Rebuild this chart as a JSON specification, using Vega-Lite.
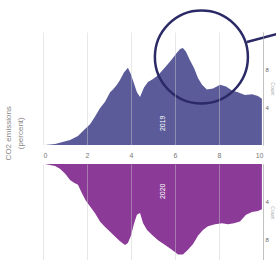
{
  "$schema": "https://vega.github.io/schema/vega-lite/v6.json",
  "background": "white",
  "config": {"view": {"stroke": null}, "font": "Liberation Sans"},
  "title": {"text": ["CO2 emissions", "(percent)"], "orient": "left", "anchor": "middle", "fontSize": 8, "fontWeight": "normal", "color": "#888", "offset": 18, "lineHeight": 12},
  "spacing": 6,
  "datasets": {
    "top": [
      {"x": 0.09, "v": 0}, {"x": 0.55, "v": 0.1}, {"x": 1.23, "v": 0.53}, {"x": 1.59, "v": 0.96},
      {"x": 1.91, "v": 1.7}, {"x": 2.14, "v": 2.2}, {"x": 2.36, "v": 3.0}, {"x": 2.59, "v": 3.9},
      {"x": 2.82, "v": 4.6}, {"x": 3.05, "v": 5.6}, {"x": 3.18, "v": 5.9}, {"x": 3.36, "v": 6.4},
      {"x": 3.5, "v": 6.9}, {"x": 3.68, "v": 7.7}, {"x": 3.86, "v": 8.2}, {"x": 4.0, "v": 7.5},
      {"x": 4.14, "v": 6.5}, {"x": 4.27, "v": 5.6}, {"x": 4.41, "v": 5.1}, {"x": 4.59, "v": 6.1},
      {"x": 4.77, "v": 6.7}, {"x": 5.0, "v": 7.0}, {"x": 5.23, "v": 7.4}, {"x": 5.45, "v": 8.0},
      {"x": 5.68, "v": 8.6}, {"x": 5.86, "v": 9.1}, {"x": 6.05, "v": 9.7}, {"x": 6.23, "v": 10.2},
      {"x": 6.36, "v": 10.3}, {"x": 6.5, "v": 9.9}, {"x": 6.68, "v": 9.0}, {"x": 6.86, "v": 8.2},
      {"x": 7.05, "v": 7.1}, {"x": 7.23, "v": 6.4}, {"x": 7.45, "v": 5.9}, {"x": 7.73, "v": 6.0},
      {"x": 8.05, "v": 6.4}, {"x": 8.32, "v": 6.2}, {"x": 8.59, "v": 5.8}, {"x": 8.86, "v": 5.6},
      {"x": 9.18, "v": 5.3}, {"x": 9.5, "v": 5.4}, {"x": 9.77, "v": 5.2}, {"x": 9.95, "v": 4.9}
    ],
    "bottom": [
      {"x": 0.09, "v": 0}, {"x": 0.55, "v": 0.2}, {"x": 0.77, "v": 0.5}, {"x": 1.0, "v": 1.0},
      {"x": 1.23, "v": 1.7}, {"x": 1.41, "v": 2.0}, {"x": 1.59, "v": 2.2}, {"x": 1.77, "v": 3.1},
      {"x": 1.95, "v": 3.9}, {"x": 2.14, "v": 4.5}, {"x": 2.36, "v": 5.2}, {"x": 2.59, "v": 6.1},
      {"x": 2.82, "v": 6.7}, {"x": 3.05, "v": 7.2}, {"x": 3.27, "v": 7.7}, {"x": 3.5, "v": 8.2},
      {"x": 3.73, "v": 8.6}, {"x": 3.86, "v": 8.4}, {"x": 4.0, "v": 7.6}, {"x": 4.14, "v": 6.3},
      {"x": 4.27, "v": 5.4}, {"x": 4.41, "v": 5.2}, {"x": 4.55, "v": 6.3}, {"x": 4.73, "v": 7.0},
      {"x": 4.95, "v": 7.5}, {"x": 5.23, "v": 8.1}, {"x": 5.55, "v": 8.6}, {"x": 5.86, "v": 9.1},
      {"x": 6.14, "v": 9.6}, {"x": 6.36, "v": 9.6}, {"x": 6.59, "v": 9.1}, {"x": 6.82, "v": 8.5},
      {"x": 7.05, "v": 7.6}, {"x": 7.27, "v": 7.0}, {"x": 7.5, "v": 6.6}, {"x": 7.82, "v": 6.4},
      {"x": 8.14, "v": 6.3}, {"x": 8.41, "v": 6.4}, {"x": 8.68, "v": 6.3}, {"x": 8.95, "v": 6.1},
      {"x": 9.23, "v": 5.4}, {"x": 9.5, "v": 5.1}, {"x": 9.77, "v": 5.0}, {"x": 9.95, "v": 4.8}
    ],
    "toplabel": [{"x": 5.45, "v": 2.3, "t": "2019"}],
    "bottomlabel": [{"x": 5.45, "v": 2.9, "t": "2020"}],
    "circle": [{"x": 7.2, "v": 9.34}],
    "pointer": [{"x": 9.27, "v": 10.93, "x2": 10.9, "v2": 11.95}]
  },
  "vconcat": [
    {
      "width": 220,
      "height": 113,
      "layer": [
        {
          "data": {"name": "top"},
          "mark": {"type": "area", "color": "#5b5b9a", "interpolate": "linear"},
          "encoding": {
            "x": {"field": "x", "type": "quantitative", "scale": {"domain": [0, 10], "nice": false},
              "axis": {"orient": "bottom", "values": [0,1,2,3,4,5,6,7,8,9,10], "grid": true, "gridColor": "#cccccc", "gridOpacity": 0.45, "domain": false, "ticks": false, "labelFontSize": 7, "labelColor": "#777", "labelPadding": 6, "title": null, "zindex": 1}},
            "y": {"field": "v", "type": "quantitative", "scale": {"domain": [0, 12], "nice": false},
              "axis": {"orient": "right", "values": [4, 8], "grid": false, "domainColor": "#bbb", "ticks": false, "labelFontSize": 6, "labelColor": "#666", "labelPadding": 2, "title": "Count", "titleFontSize": 5, "titleFontWeight": "normal", "titleColor": "#aaa", "titlePadding": 1}}
          }
        },
        {
          "data": {"name": "toplabel"},
          "mark": {"type": "text", "angle": 270, "color": "white", "fontSize": 7},
          "encoding": {"x": {"field": "x", "type": "quantitative"}, "y": {"field": "v", "type": "quantitative"}, "text": {"field": "t"}}
        },
        {
          "data": {"name": "circle"},
          "mark": {"type": "point", "shape": "circle", "filled": false, "size": 8650, "stroke": "#2b2a66", "strokeWidth": 2.5, "opacity": 1},
          "encoding": {"x": {"field": "x", "type": "quantitative"}, "y": {"field": "v", "type": "quantitative"}}
        },
        {
          "data": {"name": "pointer"},
          "mark": {"type": "rule", "color": "#2b2a66", "strokeWidth": 2.5},
          "encoding": {"x": {"field": "x", "type": "quantitative"}, "y": {"field": "v", "type": "quantitative"}, "x2": {"field": "x2"}, "y2": {"field": "v2"}}
        }
      ]
    },
    {
      "width": 220,
      "height": 97,
      "layer": [
        {
          "data": {"name": "bottom"},
          "mark": {"type": "area", "color": "#8b3a98", "interpolate": "linear"},
          "encoding": {
            "x": {"field": "x", "type": "quantitative", "scale": {"domain": [0, 10], "nice": false},
              "axis": {"orient": "bottom", "values": [0,1,2,3,4,5,6,7,8,9,10], "grid": true, "gridColor": "#cccccc", "gridOpacity": 0.45, "domain": false, "ticks": false, "labels": false, "title": null, "zindex": 1}},
            "y": {"field": "v", "type": "quantitative", "scale": {"domain": [0, 10.3], "nice": false, "reverse": true},
              "axis": {"orient": "right", "values": [4, 8], "grid": false, "domainColor": "#bbb", "ticks": false, "labelFontSize": 6, "labelColor": "#666", "labelPadding": 2, "title": "Count", "titleFontSize": 5, "titleFontWeight": "normal", "titleColor": "#aaa", "titlePadding": 1}}
          }
        },
        {
          "data": {"name": "bottomlabel"},
          "mark": {"type": "text", "angle": 270, "color": "white", "fontSize": 7},
          "encoding": {"x": {"field": "x", "type": "quantitative"}, "y": {"field": "v", "type": "quantitative"}, "text": {"field": "t"}}
        }
      ]
    }
  ]
}
